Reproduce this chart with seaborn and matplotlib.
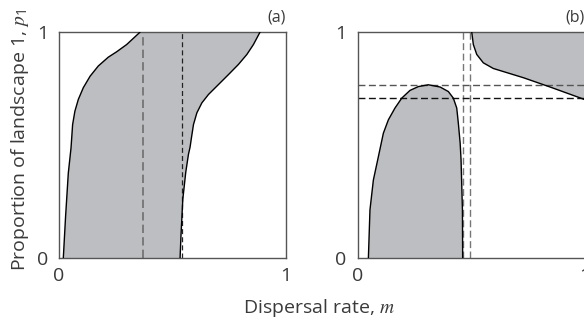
import numpy as np
import pandas as pd
import seaborn as sns
import matplotlib.pyplot as plt

# panel (a): boundaries of the shaded region (dispersal m, proportion p1)
a_left_m = [0.019, 0.029, 0.041, 0.053, 0.056, 0.060, 0.070, 0.085, 0.107, 0.137,
            0.173, 0.217, 0.254, 0.298, 0.357]
a_left_p = [0.0, 0.184, 0.376, 0.488, 0.532, 0.591, 0.650, 0.702, 0.754, 0.805,
            0.850, 0.889, 0.913, 0.945, 1.0]
a_right_m = [0.533, 0.537, 0.545, 0.558, 0.570, 0.577, 0.583, 0.592, 0.607, 0.629,
             0.658, 0.702, 0.746, 0.790, 0.827, 0.856, 0.885]
a_right_p = [0.0, 0.10, 0.26, 0.38, 0.46, 0.491, 0.532, 0.591, 0.643, 0.687,
             0.724, 0.768, 0.812, 0.857, 0.901, 0.945, 1.0]
a_vlines = [0.369, 0.540]

# panel (b): lower blob and upper-right region
b_low_m = [0.047, 0.054, 0.069, 0.088, 0.113, 0.135, 0.164, 0.194, 0.230, 0.267,
           0.311, 0.363, 0.399, 0.421, 0.436, 0.443, 0.451, 0.455, 0.461, 0.462]
b_low_p = [0.0, 0.214, 0.346, 0.435, 0.553, 0.612, 0.664, 0.708, 0.742, 0.759,
           0.767, 0.757, 0.737, 0.708, 0.664, 0.597, 0.509, 0.435, 0.214, 0.0]
b_up_m = [0.502, 0.509, 0.524, 0.553, 0.597, 0.730, 0.847, 0.979, 1.0]
b_up_p = [1.0, 0.945, 0.901, 0.864, 0.839, 0.798, 0.757, 0.709, 0.701]
b_vlines = [0.465, 0.495]
b_hlines = [0.767, 0.708]

sns.set_theme(style="white")
plt.rcParams['font.family'] = ['Open Sans', 'DejaVu Sans']
plt.rcParams['mathtext.fontset'] = 'stix'

fill_col = "#bdbec1"
text_col = "#3a3a3a"
fs = 14

fig = plt.figure(figsize=(5.84, 3.24), dpi=100)
ax1 = fig.add_axes([0.101, 0.203, 0.389, 0.698])
ax2 = fig.add_axes([0.6125, 0.203, 0.389, 0.698])

# (a)
ax1.fill(a_left_m + a_right_m[::-1], a_left_p + a_right_p[::-1],
         color=fill_col, lw=0, zorder=1)
sns.lineplot(x=a_left_m, y=a_left_p, sort=False, estimator=None, color="black", lw=1, ax=ax1, zorder=3)
sns.lineplot(x=a_right_m, y=a_right_p, sort=False, estimator=None, color="black", lw=1, ax=ax1, zorder=3)
ax1.axvline(a_vlines[0], color="#6e6e6e", lw=1.2, ls=(0, (5, 2.5)), zorder=2)
ax1.axvline(a_vlines[1], color="#222222", lw=0.9, ls=(0, (4, 2.5)), zorder=2)

# (b)
ax2.fill(b_low_m, b_low_p, color=fill_col, lw=0, zorder=1)
ax2.fill(b_up_m + [1.0], b_up_p + [1.0], color=fill_col, lw=0, zorder=1)
sns.lineplot(x=b_low_m, y=b_low_p, sort=False, estimator=None, color="black", lw=1, ax=ax2, zorder=3)
sns.lineplot(x=b_up_m, y=b_up_p, sort=False, estimator=None, color="black", lw=1, ax=ax2, zorder=3)
for v in b_vlines:
    ax2.axvline(v, color="#777777", lw=1.0, ls=(0, (5, 2.5)), zorder=2)
ax2.axhline(b_hlines[0], color="#555555", lw=1.0, ls=(0, (5, 2.5)), zorder=2)
ax2.axhline(b_hlines[1], color="#111111", lw=1.0, ls=(0, (5, 2.5)), zorder=2)

for ax, lab in [(ax1, "(a)"), (ax2, "(b)")]:
    ax.set_xlim(0, 1)
    ax.set_ylim(0, 1)
    ax.set_xticks([0, 1])
    ax.set_yticks([0, 1])
    ax.set_xticklabels(["0", "1"])
    ax.set_yticklabels(["0", "1"])
    ax.tick_params(length=0, labelsize=fs, labelcolor=text_col)
    ax.tick_params(axis="y", pad=8)
    ax.tick_params(axis="x", pad=6)
    for s in ax.spines.values():
        s.set_color("#555555")
        s.set_linewidth(1.0)
    ax.set_xlabel("")
    ax.set_ylabel("")
    ax.text(1.0, 1.065, lab, transform=ax.transAxes, ha="right", va="center",
            fontsize=fs - 2.5, color=text_col)

fig.text(0.034, 0.568, "Proportion of landscape 1, $p_{\\mathregular{1}}$", rotation=90,
         ha="center", va="center", fontsize=fs, color=text_col)
fig.text(0.546, 0.05, "Dispersal rate, $m$", ha="center", va="center", fontsize=fs, color=text_col)

fig.savefig("out.png", dpi=100)
